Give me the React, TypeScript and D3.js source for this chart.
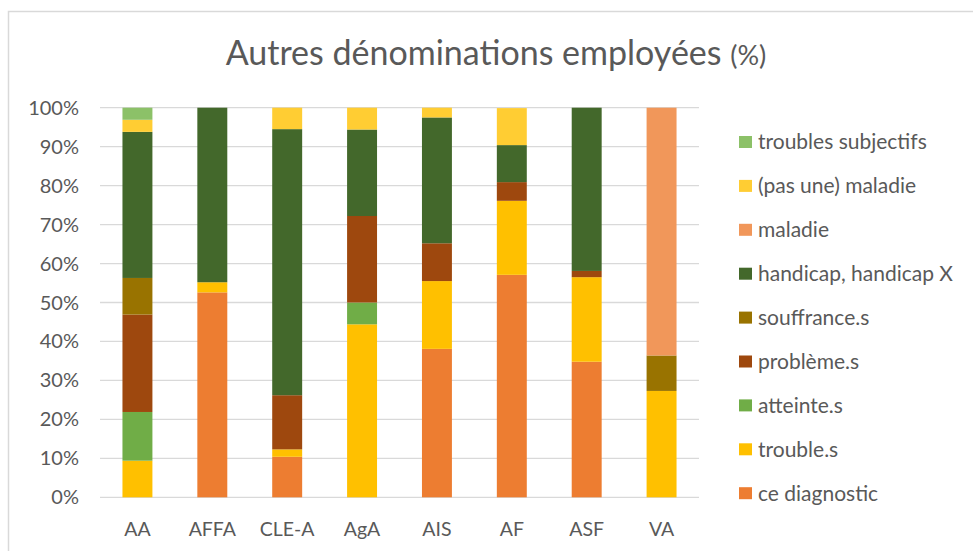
import React, { useRef, useEffect } from "react";
import * as d3 from "d3";

const categories = ["AA", "AFFA", "CLE-A", "AgA", "AIS", "AF", "ASF", "VA"];

// values in %, bottom to top of the stack
const ceDiagnostic = [0, 52.6, 10.4, 0, 38.1, 57.1, 34.8, 0];
const troubles = [9.4, 2.6, 1.9, 44.4, 17.4, 19.0, 21.7, 27.3];
const atteintes = [12.5, 0, 0, 5.6, 0, 0, 0, 0];
const problemes = [25.0, 0, 13.9, 22.2, 9.7, 4.8, 1.6, 0];
const souffrances = [9.4, 0, 0, 0, 0, 0, 0, 9.1];
const handicap = [37.5, 44.8, 68.3, 22.2, 32.3, 9.5, 41.9, 0];
const maladie = [0, 0, 0, 0, 0, 0, 0, 63.6];
const pasUneMaladie = [3.1, 0, 5.5, 5.6, 2.5, 9.5, 0, 0];
const troublesSubjectifs = [3.1, 0, 0, 0, 0, 0, 0, 0];

const seriesNames = [
  "ce diagnostic",
  "trouble.s",
  "atteinte.s",
  "problème.s",
  "souffrance.s",
  "handicap, handicap X",
  "maladie",
  "(pas une) maladie",
  "troubles subjectifs",
];
const seriesValues = [
  ceDiagnostic,
  troubles,
  atteintes,
  problemes,
  souffrances,
  handicap,
  maladie,
  pasUneMaladie,
  troublesSubjectifs,
];
const colors = [
  "#ED7D31",
  "#FFC000",
  "#70AD47",
  "#9E480E",
  "#997300",
  "#43682B",
  "#F1975A",
  "#FFCD33",
  "#8CC168",
];
const yTicks = [0, 10, 20, 30, 40, 50, 60, 70, 80, 90, 100];

const App: React.FC = () => {
  const ref = useRef<SVGSVGElement | null>(null);

  useEffect(() => {
    if (!ref.current) return;
    const svg = d3.select(ref.current);
    svg.selectAll("*").remove();

    const width = 973;
    const height = 551;
    const font = "Lato, 'Open Sans', sans-serif";
    const textColor = "#595959";

    const marginLeft = 100;
    const plotRight = 699;
    const plotTop = 107.7;
    const plotBottom = 497.3;

    // chart frame
    svg
      .append("rect")
      .attr("x", 8.5)
      .attr("y", 11.5)
      .attr("width", width + 20)
      .attr("height", height + 20)
      .attr("fill", "#fff")
      .attr("stroke", "#d9d9d9")
      .attr("stroke-width", 1.5);

    const table = categories.map((c, i) => {
      const row: any = { category: c };
      seriesNames.forEach((s, j) => (row[s] = seriesValues[j][i]));
      return row;
    });
    const stacked = d3.stack().keys(seriesNames)(table);

    const x = d3
      .scaleBand()
      .domain(categories)
      .range([marginLeft, plotRight])
      .padding(0);
    const barWidth = x.bandwidth() / 2.5;

    const y = d3.scaleLinear().domain([0, 100]).range([plotBottom, plotTop]);

    // gridlines
    svg
      .append("g")
      .selectAll("line")
      .data(yTicks)
      .join("line")
      .attr("x1", marginLeft)
      .attr("x2", plotRight)
      .attr("y1", (d) => y(d))
      .attr("y2", (d) => y(d))
      .attr("stroke", "#d9d9d9")
      .attr("stroke-width", 1.3);

    // y labels
    svg
      .append("g")
      .selectAll("text")
      .data(yTicks)
      .join("text")
      .attr("x", 79)
      .attr("y", (d) => y(d))
      .attr("dy", "0.35em")
      .attr("text-anchor", "end")
      .attr("font-family", font)
      .attr("font-size", 20)
      .attr("fill", textColor)
      .text((d) => `${d}%`);

    // bars
    svg
      .append("g")
      .selectAll("g")
      .data(stacked)
      .join("g")
      .attr("fill", (_, i) => colors[i])
      .selectAll("rect")
      .data((d) => d)
      .join("rect")
      .attr("x", (d: any) => (x(d.data.category) as number) + (x.bandwidth() - barWidth) / 2)
      .attr("width", barWidth)
      .attr("y", (d) => y(d[1]))
      .attr("height", (d) => Math.max(0, y(d[0]) - y(d[1])));

    // x labels
    svg
      .append("g")
      .selectAll("text")
      .data(categories)
      .join("text")
      .attr("x", (d) => (x(d) as number) + x.bandwidth() / 2)
      .attr("y", 536)
      .attr("text-anchor", "middle")
      .attr("font-family", font)
      .attr("font-size", 19.5)
      .attr("fill", textColor)
      .text((d) => d);

    // title
    const title = svg
      .append("text")
      .attr("x", 496)
      .attr("y", 65)
      .attr("text-anchor", "middle")
      .attr("font-family", font)
      .attr("fill", textColor);
    title.append("tspan").attr("font-size", 34).text("Autres dénominations employées ");
    title.append("tspan").attr("font-size", 27).text("(%)");

    // legend, top to bottom in reverse stack order
    const legendItems = seriesNames.map((s, i) => ({ name: s, color: colors[i] })).reverse();
    const legend = svg
      .append("g")
      .selectAll("g")
      .data(legendItems)
      .join("g")
      .attr("transform", (_, i) => `translate(739, ${142 + i * 43.9})`);
    legend
      .append("rect")
      .attr("x", 0)
      .attr("y", -6)
      .attr("width", 13)
      .attr("height", 12)
      .attr("fill", (d) => d.color);
    legend
      .append("text")
      .attr("x", 19)
      .attr("dy", "0.35em")
      .attr("font-family", font)
      .attr("font-size", 21)
      .attr("fill", textColor)
      .text((d) => d.name);
  }, []);

  return (
    <svg
      ref={ref}
      width={973}
      height={551}
      style={{ position: "absolute", left: 0, top: 0 }}
    />
  );
};

export default App;
